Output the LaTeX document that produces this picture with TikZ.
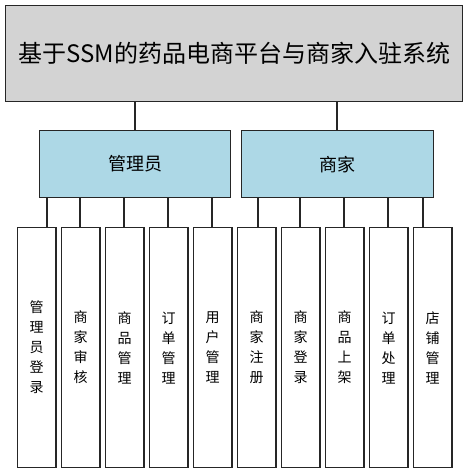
\documentclass[tikz,border=0pt]{standalone}
\usepackage{fontspec}
\newfontfamily\cjk{Noto Sans CJK SC}
\begin{document}
\begin{tikzpicture}[x=1pt,y=-1pt,
  box/.style={draw=black!85,line width=1.3pt,inner sep=0pt,anchor=north west},
  leaf/.style={box,fill=white,minimum width=38.6pt,minimum height=240pt,font=\cjk\fontsize{14}{20}\selectfont,align=center},
  mid/.style={box,fill=lightblue,minimum width=191pt,minimum height=67pt,font=\cjk\fontsize{18}{20}\selectfont},
  conn/.style={draw=black!85,line width=1.3pt}]
\definecolor{lightblue}{HTML}{ADD8E6}
\definecolor{topgray}{HTML}{D3D3D3}
\useasboundingbox (0,0) rectangle (467,473);
\node[box,fill=topgray,minimum width=457pt,minimum height=96pt,font=\cjk\fontsize{24}{30}\selectfont] (top) at (5,5) {基于SSM的药品电商平台与商家入驻系统};
\node[mid] (adm) at (39,130) {管理员};
\node[mid,minimum width=192pt] (mer) at (241,130) {商家};
\foreach \i/\t in {0/管\\理\\员\\登\\录,1/商\\家\\审\\核,2/商\\品\\管\\理,3/订\\单\\管\\理,4/用\\户\\管\\理,5/商\\家\\注\\册,6/商\\家\\登\\录,7/商\\品\\上\\架,8/订\\单\\处\\理,9/店\\铺\\管\\理}{
  \node[leaf] (l\i) at ({16.7+44*\i},227) {\t};
}
\draw[conn] (top.south -| 135,0) -- (adm.north -| 135,0);
\draw[conn] (top.south -| 337,0) -- (mer.north -| 337,0);
\foreach \i/\x in {0/47,1/80,2/124,3/168,4/212}{
  \draw[conn] (adm.south -| \x,0) -- (l\i.north -| \x,0);
}
\foreach \i/\x in {5/258,6/300,7/344,8/388,9/423}{
  \draw[conn] (mer.south -| \x,0) -- (l\i.north -| \x,0);
}
\end{tikzpicture}
\end{document}
